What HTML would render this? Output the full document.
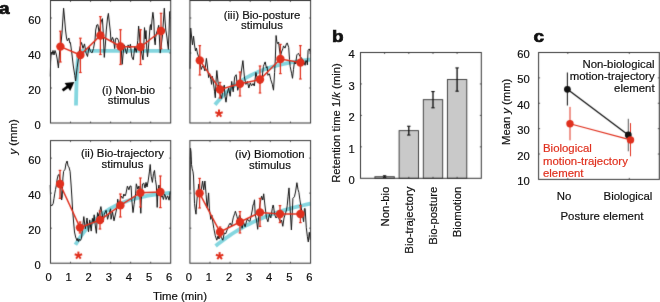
<!DOCTYPE html><html><head><meta charset="utf-8"><style>html,body{margin:0;padding:0;background:#fff;}#w{width:660px;height:302px;overflow:hidden;will-change:transform;}svg{display:block;}text{font-family:"Liberation Sans", sans-serif;}</style></head><body><div id="w"><svg width="660" height="302" viewBox="0 0 660 302" font-family='"Liberation Sans", sans-serif'>
<defs><filter id="bl" x="0" y="0" width="660" height="302" filterUnits="userSpaceOnUse" color-interpolation-filters="sRGB"><feConvolveMatrix order="3" kernelMatrix="0.0113 0.0838 0.0113 0.0838 0.6193 0.0838 0.0113 0.0838 0.0113" divisor="1" edgeMode="duplicate"/></filter></defs>
<g filter="url(#bl)">
<rect width="660" height="302" fill="#fff"/>
<path d="M76.0,105.5 L76.00,105.40 L76.01,104.60 L76.06,102.27 L76.13,98.62 L76.24,93.93 L76.37,88.58 L76.53,82.93 L76.72,77.33 L76.94,72.08 L77.20,67.38 L77.48,63.35 L77.79,60.03 L78.13,57.40 L78.50,55.39 L78.89,53.92 L79.32,52.87 L79.78,52.14 L80.27,51.66 L80.78,51.36 L81.33,51.16 L81.91,51.05 L82.51,50.98 L83.15,50.94 L83.81,50.92 L84.50,50.91 L85.23,50.91 L85.98,50.90 L86.76,50.90 L87.58,50.90 L88.42,50.90 L89.29,50.90 L90.19,50.90 L91.12,50.90 L92.08,50.90 L93.07,50.90 L94.09,50.90 L95.14,50.90 L96.21,50.90 L97.32,50.90 L98.46,50.90 L99.62,50.90 L100.82,50.90 L102.05,50.90 L103.30,50.90 L104.59,50.90 L105.90,50.90 L107.24,50.90 L108.62,50.90 L110.02,50.90 L111.45,50.90 L112.91,50.90 L114.41,50.90 L115.93,50.90 L117.48,50.90 L119.06,50.90 L120.67,50.90 L122.30,50.90 L123.97,50.90 L125.67,50.90 L127.40,50.90 L129.16,50.90 L130.94,50.90 L132.76,50.90 L134.60,50.90 L136.48,50.90 L138.38,50.90 L140.32,50.90 L142.28,50.90 L144.28,50.90 L146.30,50.90 L148.35,50.90 L150.43,50.90 L152.55,50.90 L154.69,50.90 L156.86,50.90 L159.06,50.90 L161.29,50.90 L163.55,50.90 L165.83,50.90 L168.15,50.90 L170.50,50.90" fill="none" stroke="#84d6df" stroke-width="3.8" stroke-linecap="butt" stroke-linejoin="round"/>
<polyline points="50.3,76.5 50.6,62.0 51.2,52.0 52.0,54.5 53.0,50.5 54.0,55.0 55.0,50.5 56.2,54.0 57.2,59.0 58.4,68.0 59.3,56.0 60.0,47.0 61.0,43.0 62.0,33.0 62.8,20.0 63.6,8.2 64.5,18.0 65.5,30.0 66.5,38.0 67.4,41.0 68.9,38.0 69.8,43.0 70.4,42.5 71.8,53.0 73.3,66.0 74.8,75.5 75.6,81.0 76.4,74.0 77.1,67.8 78.6,57.4 80.0,47.0 81.5,42.5 83.0,48.4 84.5,43.9 86.0,52.9 87.5,56.5 89.0,47.0 90.5,51.4 92.0,52.9 93.5,48.4 95.0,40.0 95.7,30.0 96.8,25.0 97.9,24.6 99.0,32.0 100.0,28.0 101.0,22.0 102.4,18.6 103.1,30.0 104.3,57.4 105.4,44.0 106.3,30.0 107.5,18.0 108.4,13.4 109.5,24.0 110.4,32.0 111.0,41.9 112.5,37.3 113.5,40.0 114.7,48.6 115.5,38.7 117.0,38.0 118.4,40.2 119.5,45.0 120.5,42.0 121.3,50.0 122.2,64.3 123.3,52.0 124.4,44.9 125.5,50.0 126.6,53.8 128.1,44.9 129.3,48.0 130.4,44.2 131.8,56.8 133.3,59.8 134.8,46.4 136.3,52.4 137.8,40.4 138.6,26.0 139.3,33.0 140.2,45.0 141.5,52.0 143.0,59.8 143.8,46.0 144.5,27.6 145.3,38.9 146.0,30.5 146.8,49.4 147.5,56.8 148.4,48.0 149.0,40.4 150.0,27.0 150.5,24.6 151.2,30.0 152.0,20.0 152.9,12.3 153.8,20.0 154.5,40.0 155.2,44.9 155.7,37.3 156.5,33.0 157.5,30.0 158.7,25.3 159.5,40.0 160.2,53.1 161.3,45.0 162.4,36.0 163.5,20.0 164.3,8.2 165.0,20.0 165.8,30.0 166.9,37.0 167.8,45.0 168.4,49.4 169.1,30.0 169.6,11.9 170.3,11.0" fill="none" stroke="#111" stroke-width="1.0" stroke-linejoin="round"/>
<line x1="60.40" y1="31.20" x2="60.40" y2="62.00" stroke="#e0301e" stroke-width="1.3" />
<line x1="59.10" y1="31.20" x2="61.70" y2="31.20" stroke="#e0301e" stroke-width="1.2" />
<line x1="59.10" y1="62.00" x2="61.70" y2="62.00" stroke="#e0301e" stroke-width="1.2" />
<line x1="80.40" y1="38.20" x2="80.40" y2="72.50" stroke="#e0301e" stroke-width="1.3" />
<line x1="79.10" y1="38.20" x2="81.70" y2="38.20" stroke="#e0301e" stroke-width="1.2" />
<line x1="79.10" y1="72.50" x2="81.70" y2="72.50" stroke="#e0301e" stroke-width="1.2" />
<line x1="100.40" y1="16.60" x2="100.40" y2="54.50" stroke="#e0301e" stroke-width="1.3" />
<line x1="99.10" y1="16.60" x2="101.70" y2="16.60" stroke="#e0301e" stroke-width="1.2" />
<line x1="99.10" y1="54.50" x2="101.70" y2="54.50" stroke="#e0301e" stroke-width="1.2" />
<line x1="120.50" y1="29.70" x2="120.50" y2="64.50" stroke="#e0301e" stroke-width="1.3" />
<line x1="119.20" y1="29.70" x2="121.80" y2="29.70" stroke="#e0301e" stroke-width="1.2" />
<line x1="119.20" y1="64.50" x2="121.80" y2="64.50" stroke="#e0301e" stroke-width="1.2" />
<line x1="140.50" y1="29.70" x2="140.50" y2="64.50" stroke="#e0301e" stroke-width="1.3" />
<line x1="139.20" y1="29.70" x2="141.80" y2="29.70" stroke="#e0301e" stroke-width="1.2" />
<line x1="139.20" y1="64.50" x2="141.80" y2="64.50" stroke="#e0301e" stroke-width="1.2" />
<line x1="161.00" y1="13.30" x2="161.00" y2="48.70" stroke="#e0301e" stroke-width="1.3" />
<line x1="159.70" y1="13.30" x2="162.30" y2="13.30" stroke="#e0301e" stroke-width="1.2" />
<line x1="159.70" y1="48.70" x2="162.30" y2="48.70" stroke="#e0301e" stroke-width="1.2" />
<polyline points="60.4,46.6 80.4,55.0 100.4,35.5 120.5,46.5 140.5,47.0 161.0,31.0" fill="none" stroke="#e0301e" stroke-width="1.5"/>
<circle cx="60.4" cy="46.6" r="4.2" fill="#e0301e"/>
<circle cx="80.4" cy="55.0" r="4.2" fill="#e0301e"/>
<circle cx="100.4" cy="35.5" r="4.2" fill="#e0301e"/>
<circle cx="120.5" cy="46.5" r="4.2" fill="#e0301e"/>
<circle cx="140.5" cy="47.0" r="4.2" fill="#e0301e"/>
<circle cx="161.0" cy="31.0" r="4.2" fill="#e0301e"/>
<rect x="50.5" y="0.5" width="120.20" height="122.50" fill="none" stroke="#333" stroke-width="1"/>
<line x1="70.53" y1="123.00" x2="70.53" y2="121.50" stroke="#333" stroke-width="0.8" />
<line x1="70.53" y1="0.50" x2="70.53" y2="2.00" stroke="#333" stroke-width="0.8" />
<line x1="90.57" y1="123.00" x2="90.57" y2="121.50" stroke="#333" stroke-width="0.8" />
<line x1="90.57" y1="0.50" x2="90.57" y2="2.00" stroke="#333" stroke-width="0.8" />
<line x1="110.60" y1="123.00" x2="110.60" y2="121.50" stroke="#333" stroke-width="0.8" />
<line x1="110.60" y1="0.50" x2="110.60" y2="2.00" stroke="#333" stroke-width="0.8" />
<line x1="130.63" y1="123.00" x2="130.63" y2="121.50" stroke="#333" stroke-width="0.8" />
<line x1="130.63" y1="0.50" x2="130.63" y2="2.00" stroke="#333" stroke-width="0.8" />
<line x1="150.67" y1="123.00" x2="150.67" y2="121.50" stroke="#333" stroke-width="0.8" />
<line x1="150.67" y1="0.50" x2="150.67" y2="2.00" stroke="#333" stroke-width="0.8" />
<line x1="50.50" y1="88.00" x2="52.00" y2="88.00" stroke="#333" stroke-width="0.8" />
<line x1="170.70" y1="88.00" x2="169.20" y2="88.00" stroke="#333" stroke-width="0.8" />
<line x1="50.50" y1="53.00" x2="52.00" y2="53.00" stroke="#333" stroke-width="0.8" />
<line x1="170.70" y1="53.00" x2="169.20" y2="53.00" stroke="#333" stroke-width="0.8" />
<line x1="50.50" y1="18.00" x2="52.00" y2="18.00" stroke="#333" stroke-width="0.8" />
<line x1="170.70" y1="18.00" x2="169.20" y2="18.00" stroke="#333" stroke-width="0.8" />
<path d="M215.00,104.70 L216.59,102.76 L218.18,100.90 L219.78,99.11 L221.37,97.39 L222.96,95.73 L224.55,94.14 L226.14,92.62 L227.73,91.15 L229.32,89.74 L230.92,88.38 L232.51,87.08 L234.10,85.83 L235.69,84.63 L237.28,83.47 L238.88,82.36 L240.47,81.29 L242.06,80.27 L243.65,79.28 L245.24,78.34 L246.83,77.42 L248.43,76.55 L250.02,75.71 L251.61,74.90 L253.20,74.13 L254.79,73.38 L256.38,72.66 L257.98,71.97 L259.57,71.31 L261.16,70.67 L262.75,70.06 L264.34,69.48 L265.93,68.91 L267.52,68.37 L269.12,67.85 L270.71,67.35 L272.30,66.86 L273.89,66.40 L275.48,65.96 L277.07,65.53 L278.67,65.12 L280.26,64.72 L281.85,64.34 L283.44,63.98 L285.03,63.63 L286.62,63.29 L288.22,62.97 L289.81,62.66 L291.40,62.36 L292.99,62.07 L294.58,61.80 L296.18,61.53 L297.77,61.28 L299.36,61.03 L300.95,60.80 L302.54,60.57 L304.13,60.35 L305.73,60.14 L307.32,59.94 L308.91,59.75 L310.50,59.57" fill="none" stroke="#84d6df" stroke-width="3.8" stroke-linecap="butt" stroke-linejoin="round"/>
<polyline points="190.0,68.8 190.3,45.0 190.7,28.0 191.5,36.0 192.5,45.0 193.5,36.0 194.5,45.0 195.5,51.0 196.4,48.0 197.4,53.0 198.9,57.8 200.4,65.0 201.2,69.5 202.6,65.9 203.6,67.0 204.9,71.0 206.4,58.4 207.4,66.0 208.6,77.6 209.6,73.5 210.8,79.3 211.6,84.4 212.3,76.3 213.1,79.9 213.8,86.0 214.6,91.8 215.3,97.8 216.1,80.0 216.8,70.5 218.3,84.4 219.8,93.3 221.6,98.5 222.8,90.0 224.3,85.1 225.0,96.3 226.0,102.2 227.2,93.3 228.7,88.1 230.2,96.3 231.7,81.4 233.2,91.8 234.7,76.9 236.2,74.7 237.7,90.3 239.0,85.0 240.5,78.0 241.5,70.0 242.9,60.6 244.4,76.9 245.9,84.4 247.4,81.4 248.8,88.0 250.3,82.9 251.5,85.8 253.0,83.5 254.3,86.0 255.9,72.4 256.7,76.0 258.2,79.8 259.8,84.0 261.9,79.8 263.4,66.4 264.1,64.5 265.2,61.9 266.4,67.9 267.1,66.7 267.9,75.3 269.4,73.8 270.8,79.8 272.3,84.3 273.5,90.2 274.6,72.4 275.3,58.9 276.1,35.5 276.8,41.4 277.6,43.6 278.6,42.0 279.5,50.0 280.5,56.3 281.5,52.0 282.8,48.9 283.5,45.9 285.0,48.1 286.5,43.6 287.2,42.9 288.7,47.4 289.5,59.3 290.2,66.7 291.7,73.8 292.5,78.3 293.5,69.4 294.4,62.3 295.5,64.0 296.9,54.8 298.4,53.3 299.8,56.0 301.5,58.0 303.5,61.0 305.1,65.3 305.9,60.4 306.6,61.0 307.4,64.9 308.1,50.4 309.3,48.9 310.3,52.0" fill="none" stroke="#111" stroke-width="1.0" stroke-linejoin="round"/>
<line x1="199.80" y1="45.60" x2="199.80" y2="75.00" stroke="#e0301e" stroke-width="1.3" />
<line x1="198.50" y1="45.60" x2="201.10" y2="45.60" stroke="#e0301e" stroke-width="1.2" />
<line x1="198.50" y1="75.00" x2="201.10" y2="75.00" stroke="#e0301e" stroke-width="1.2" />
<line x1="220.00" y1="82.40" x2="220.00" y2="98.00" stroke="#e0301e" stroke-width="1.3" />
<line x1="218.70" y1="82.40" x2="221.30" y2="82.40" stroke="#e0301e" stroke-width="1.2" />
<line x1="218.70" y1="98.00" x2="221.30" y2="98.00" stroke="#e0301e" stroke-width="1.2" />
<line x1="240.00" y1="72.00" x2="240.00" y2="96.00" stroke="#e0301e" stroke-width="1.3" />
<line x1="238.70" y1="72.00" x2="241.30" y2="72.00" stroke="#e0301e" stroke-width="1.2" />
<line x1="238.70" y1="96.00" x2="241.30" y2="96.00" stroke="#e0301e" stroke-width="1.2" />
<line x1="260.00" y1="66.00" x2="260.00" y2="93.00" stroke="#e0301e" stroke-width="1.3" />
<line x1="258.70" y1="66.00" x2="261.30" y2="66.00" stroke="#e0301e" stroke-width="1.2" />
<line x1="258.70" y1="93.00" x2="261.30" y2="93.00" stroke="#e0301e" stroke-width="1.2" />
<line x1="280.40" y1="44.40" x2="280.40" y2="73.60" stroke="#e0301e" stroke-width="1.3" />
<line x1="279.10" y1="44.40" x2="281.70" y2="44.40" stroke="#e0301e" stroke-width="1.2" />
<line x1="279.10" y1="73.60" x2="281.70" y2="73.60" stroke="#e0301e" stroke-width="1.2" />
<line x1="300.40" y1="45.60" x2="300.40" y2="79.00" stroke="#e0301e" stroke-width="1.3" />
<line x1="299.10" y1="45.60" x2="301.70" y2="45.60" stroke="#e0301e" stroke-width="1.2" />
<line x1="299.10" y1="79.00" x2="301.70" y2="79.00" stroke="#e0301e" stroke-width="1.2" />
<polyline points="199.8,60.4 220.0,89.5 240.0,83.8 260.0,79.5 280.4,59.0 300.4,62.6" fill="none" stroke="#e0301e" stroke-width="1.5"/>
<circle cx="199.8" cy="60.4" r="4.2" fill="#e0301e"/>
<circle cx="220.0" cy="89.5" r="4.2" fill="#e0301e"/>
<circle cx="240.0" cy="83.8" r="4.2" fill="#e0301e"/>
<circle cx="260.0" cy="79.5" r="4.2" fill="#e0301e"/>
<circle cx="280.4" cy="59.0" r="4.2" fill="#e0301e"/>
<circle cx="300.4" cy="62.6" r="4.2" fill="#e0301e"/>
<rect x="189.9" y="0.5" width="120.70" height="122.50" fill="none" stroke="#333" stroke-width="1"/>
<line x1="210.02" y1="123.00" x2="210.02" y2="121.50" stroke="#333" stroke-width="0.8" />
<line x1="210.02" y1="0.50" x2="210.02" y2="2.00" stroke="#333" stroke-width="0.8" />
<line x1="230.13" y1="123.00" x2="230.13" y2="121.50" stroke="#333" stroke-width="0.8" />
<line x1="230.13" y1="0.50" x2="230.13" y2="2.00" stroke="#333" stroke-width="0.8" />
<line x1="250.25" y1="123.00" x2="250.25" y2="121.50" stroke="#333" stroke-width="0.8" />
<line x1="250.25" y1="0.50" x2="250.25" y2="2.00" stroke="#333" stroke-width="0.8" />
<line x1="270.37" y1="123.00" x2="270.37" y2="121.50" stroke="#333" stroke-width="0.8" />
<line x1="270.37" y1="0.50" x2="270.37" y2="2.00" stroke="#333" stroke-width="0.8" />
<line x1="290.48" y1="123.00" x2="290.48" y2="121.50" stroke="#333" stroke-width="0.8" />
<line x1="290.48" y1="0.50" x2="290.48" y2="2.00" stroke="#333" stroke-width="0.8" />
<line x1="189.90" y1="88.00" x2="191.40" y2="88.00" stroke="#333" stroke-width="0.8" />
<line x1="310.60" y1="88.00" x2="309.10" y2="88.00" stroke="#333" stroke-width="0.8" />
<line x1="189.90" y1="53.00" x2="191.40" y2="53.00" stroke="#333" stroke-width="0.8" />
<line x1="310.60" y1="53.00" x2="309.10" y2="53.00" stroke="#333" stroke-width="0.8" />
<line x1="189.90" y1="18.00" x2="191.40" y2="18.00" stroke="#333" stroke-width="0.8" />
<line x1="310.60" y1="18.00" x2="309.10" y2="18.00" stroke="#333" stroke-width="0.8" />
<line x1="219.00" y1="113.50" x2="219.00" y2="109.60" stroke="#e0301e" stroke-width="2.0" stroke-linecap="butt"/>
<line x1="219.00" y1="113.50" x2="222.71" y2="112.29" stroke="#e0301e" stroke-width="2.0" stroke-linecap="butt"/>
<line x1="219.00" y1="113.50" x2="221.29" y2="116.66" stroke="#e0301e" stroke-width="2.0" stroke-linecap="butt"/>
<line x1="219.00" y1="113.50" x2="216.71" y2="116.66" stroke="#e0301e" stroke-width="2.0" stroke-linecap="butt"/>
<line x1="219.00" y1="113.50" x2="215.29" y2="112.29" stroke="#e0301e" stroke-width="2.0" stroke-linecap="butt"/>
<path d="M75.40,244.80 L76.98,242.17 L78.57,239.66 L80.16,237.28 L81.74,235.01 L83.33,232.84 L84.91,230.79 L86.50,228.83 L88.08,226.96 L89.67,225.19 L91.25,223.50 L92.84,221.89 L94.42,220.36 L96.01,218.90 L97.59,217.51 L99.18,216.19 L100.76,214.93 L102.34,213.73 L103.93,212.59 L105.52,211.51 L107.10,210.48 L108.69,209.49 L110.27,208.56 L111.86,207.66 L113.44,206.82 L115.03,206.01 L116.61,205.24 L118.20,204.51 L119.78,203.81 L121.37,203.15 L122.95,202.52 L124.54,201.91 L126.12,201.34 L127.71,200.80 L129.29,200.28 L130.88,199.79 L132.46,199.32 L134.05,198.87 L135.63,198.44 L137.22,198.04 L138.80,197.65 L140.38,197.28 L141.97,196.93 L143.56,196.60 L145.14,196.28 L146.72,195.98 L148.31,195.69 L149.89,195.42 L151.48,195.16 L153.06,194.91 L154.65,194.68 L156.24,194.45 L157.82,194.24 L159.41,194.03 L160.99,193.84 L162.57,193.66 L164.16,193.48 L165.75,193.31 L167.33,193.15 L168.91,193.00 L170.50,192.86" fill="none" stroke="#84d6df" stroke-width="3.8" stroke-linecap="butt" stroke-linejoin="round"/>
<polyline points="50.2,185.0 50.5,196.0 50.7,204.4 51.7,205.9 53.2,203.6 54.0,198.4 54.7,193.9 55.5,189.5 56.2,186.0 57.2,179.0 58.2,175.0 59.2,174.4 60.0,180.0 61.0,190.0 61.6,200.0 62.2,197.0 62.9,178.0 63.6,171.4 65.1,169.2 65.9,163.9 67.1,161.0 68.1,166.2 68.9,166.9 70.1,171.4 71.1,185.0 71.8,196.0 72.6,210.0 73.6,222.0 74.5,232.0 75.6,237.0 77.1,240.8 77.8,238.5 78.6,241.5 79.3,239.3 80.3,240.5 81.5,238.5 82.5,228.0 83.8,216.6 85.3,228.8 86.2,224.0 87.0,218.0 88.5,231.8 89.7,219.9 91.2,231.1 92.4,218.4 93.3,222.0 94.2,214.8 95.2,225.0 96.4,233.3 97.5,212.6 98.3,216.0 99.3,213.0 100.9,206.6 102.3,215.0 103.3,222.0 104.3,214.1 106.1,210.3 107.6,219.3 109.1,213.3 110.6,208.8 111.0,219.3 112.5,211.8 114.0,220.8 115.5,214.0 117.0,207.4 117.7,199.2 118.8,205.0 120.0,201.0 121.3,196.0 122.9,198.4 123.8,194.0 125.0,196.0 125.9,193.9 127.4,186.1 128.9,189.8 130.0,186.0 131.1,186.1 131.8,199.9 133.0,212.6 134.1,204.4 135.6,193.9 136.3,183.8 137.8,189.1 139.0,186.0 140.0,196.0 140.8,213.3 141.5,195.0 142.5,184.0 143.8,183.1 145.0,188.0 146.0,182.4 147.0,187.0 148.2,180.9 149.4,171.9 150.2,164.5 151.2,176.4 152.4,182.4 153.5,173.4 154.5,170.4 155.4,179.4 156.4,186.0 157.2,207.4 158.0,190.0 159.0,185.0 159.9,194.3 160.9,197.3 162.4,195.8 163.4,199.5 164.6,194.3 165.4,195.4 166.1,199.5 167.6,195.8 169.1,200.2 170.3,191.3" fill="none" stroke="#111" stroke-width="1.0" stroke-linejoin="round"/>
<line x1="60.00" y1="170.40" x2="60.00" y2="198.40" stroke="#e0301e" stroke-width="1.3" />
<line x1="58.70" y1="170.40" x2="61.30" y2="170.40" stroke="#e0301e" stroke-width="1.2" />
<line x1="58.70" y1="198.40" x2="61.30" y2="198.40" stroke="#e0301e" stroke-width="1.2" />
<line x1="80.00" y1="222.00" x2="80.00" y2="233.00" stroke="#e0301e" stroke-width="1.3" />
<line x1="78.70" y1="222.00" x2="81.30" y2="222.00" stroke="#e0301e" stroke-width="1.2" />
<line x1="78.70" y1="233.00" x2="81.30" y2="233.00" stroke="#e0301e" stroke-width="1.2" />
<line x1="100.00" y1="211.00" x2="100.00" y2="229.00" stroke="#e0301e" stroke-width="1.3" />
<line x1="98.70" y1="211.00" x2="101.30" y2="211.00" stroke="#e0301e" stroke-width="1.2" />
<line x1="98.70" y1="229.00" x2="101.30" y2="229.00" stroke="#e0301e" stroke-width="1.2" />
<line x1="120.40" y1="194.00" x2="120.40" y2="217.00" stroke="#e0301e" stroke-width="1.3" />
<line x1="119.10" y1="194.00" x2="121.70" y2="194.00" stroke="#e0301e" stroke-width="1.2" />
<line x1="119.10" y1="217.00" x2="121.70" y2="217.00" stroke="#e0301e" stroke-width="1.2" />
<line x1="140.40" y1="178.00" x2="140.40" y2="207.00" stroke="#e0301e" stroke-width="1.3" />
<line x1="139.10" y1="178.00" x2="141.70" y2="178.00" stroke="#e0301e" stroke-width="1.2" />
<line x1="139.10" y1="207.00" x2="141.70" y2="207.00" stroke="#e0301e" stroke-width="1.2" />
<line x1="160.40" y1="176.00" x2="160.40" y2="207.60" stroke="#e0301e" stroke-width="1.3" />
<line x1="159.10" y1="176.00" x2="161.70" y2="176.00" stroke="#e0301e" stroke-width="1.2" />
<line x1="159.10" y1="207.60" x2="161.70" y2="207.60" stroke="#e0301e" stroke-width="1.2" />
<polyline points="60.0,184.0 80.0,227.6 100.0,220.0 120.4,205.4 140.4,192.7 160.4,192.0" fill="none" stroke="#e0301e" stroke-width="1.5"/>
<circle cx="60.0" cy="184.0" r="4.2" fill="#e0301e"/>
<circle cx="80.0" cy="227.6" r="4.2" fill="#e0301e"/>
<circle cx="100.0" cy="220.0" r="4.2" fill="#e0301e"/>
<circle cx="120.4" cy="205.4" r="4.2" fill="#e0301e"/>
<circle cx="140.4" cy="192.7" r="4.2" fill="#e0301e"/>
<circle cx="160.4" cy="192.0" r="4.2" fill="#e0301e"/>
<rect x="50.5" y="140.6" width="120.20" height="122.60" fill="none" stroke="#333" stroke-width="1"/>
<line x1="70.53" y1="263.20" x2="70.53" y2="261.70" stroke="#333" stroke-width="0.8" />
<line x1="70.53" y1="140.60" x2="70.53" y2="142.10" stroke="#333" stroke-width="0.8" />
<line x1="90.57" y1="263.20" x2="90.57" y2="261.70" stroke="#333" stroke-width="0.8" />
<line x1="90.57" y1="140.60" x2="90.57" y2="142.10" stroke="#333" stroke-width="0.8" />
<line x1="110.60" y1="263.20" x2="110.60" y2="261.70" stroke="#333" stroke-width="0.8" />
<line x1="110.60" y1="140.60" x2="110.60" y2="142.10" stroke="#333" stroke-width="0.8" />
<line x1="130.63" y1="263.20" x2="130.63" y2="261.70" stroke="#333" stroke-width="0.8" />
<line x1="130.63" y1="140.60" x2="130.63" y2="142.10" stroke="#333" stroke-width="0.8" />
<line x1="150.67" y1="263.20" x2="150.67" y2="261.70" stroke="#333" stroke-width="0.8" />
<line x1="150.67" y1="140.60" x2="150.67" y2="142.10" stroke="#333" stroke-width="0.8" />
<line x1="50.50" y1="228.17" x2="52.00" y2="228.17" stroke="#333" stroke-width="0.8" />
<line x1="170.70" y1="228.17" x2="169.20" y2="228.17" stroke="#333" stroke-width="0.8" />
<line x1="50.50" y1="193.14" x2="52.00" y2="193.14" stroke="#333" stroke-width="0.8" />
<line x1="170.70" y1="193.14" x2="169.20" y2="193.14" stroke="#333" stroke-width="0.8" />
<line x1="50.50" y1="158.11" x2="52.00" y2="158.11" stroke="#333" stroke-width="0.8" />
<line x1="170.70" y1="158.11" x2="169.20" y2="158.11" stroke="#333" stroke-width="0.8" />
<line x1="78.40" y1="255.50" x2="78.40" y2="251.60" stroke="#e0301e" stroke-width="2.0" stroke-linecap="butt"/>
<line x1="78.40" y1="255.50" x2="82.11" y2="254.29" stroke="#e0301e" stroke-width="2.0" stroke-linecap="butt"/>
<line x1="78.40" y1="255.50" x2="80.69" y2="258.66" stroke="#e0301e" stroke-width="2.0" stroke-linecap="butt"/>
<line x1="78.40" y1="255.50" x2="76.11" y2="258.66" stroke="#e0301e" stroke-width="2.0" stroke-linecap="butt"/>
<line x1="78.40" y1="255.50" x2="74.69" y2="254.29" stroke="#e0301e" stroke-width="2.0" stroke-linecap="butt"/>
<path d="M215.60,246.00 L217.97,244.06 L220.34,242.19 L222.72,240.39 L225.09,238.65 L227.46,236.96 L229.84,235.34 L232.21,233.77 L234.58,232.26 L236.95,230.79 L239.32,229.38 L241.70,228.02 L244.07,226.71 L246.44,225.44 L248.81,224.21 L251.19,223.03 L253.56,221.89 L255.93,220.78 L258.31,219.72 L260.68,218.69 L263.05,217.70 L265.42,216.74 L267.80,215.81 L270.17,214.92 L272.54,214.06 L274.91,213.23 L277.28,212.42 L279.66,211.65 L282.03,210.90 L284.40,210.18 L286.77,209.48 L289.15,208.81 L291.52,208.15 L293.89,207.53 L296.26,206.92 L298.64,206.34 L301.01,205.77 L303.38,205.23 L305.75,204.70 L308.13,204.19 L310.50,203.70" fill="none" stroke="#84d6df" stroke-width="3.8" stroke-linecap="butt" stroke-linejoin="round"/>
<polyline points="190.0,190.0 190.2,160.0 190.5,148.0 191.0,152.0 191.5,164.4 192.2,168.8 193.0,171.8 193.5,176.0 194.0,190.0 194.5,203.3 195.2,209.3 196.0,214.2 196.6,204.0 197.4,195.0 198.9,184.0 200.2,195.0 201.5,188.0 202.6,181.0 203.7,189.9 204.9,181.0 206.1,194.4 207.1,208.0 208.0,200.0 208.6,192.9 209.4,208.9 210.8,219.4 211.8,215.0 212.8,222.0 213.8,228.3 215.3,235.8 216.8,240.2 218.0,236.0 219.0,239.0 220.0,233.0 221.3,237.3 222.8,240.2 224.3,232.8 225.5,234.0 227.2,229.8 228.7,225.3 230.2,223.1 231.6,226.0 233.2,217.9 234.7,213.4 235.4,211.2 236.9,216.4 238.0,221.0 239.5,215.0 241.0,219.0 242.1,228.3 243.5,222.0 245.1,226.8 246.6,220.9 247.5,219.0 248.5,221.0 250.0,221.1 251.5,214.0 252.3,210.0 253.0,205.0 253.7,203.9 254.5,199.8 255.2,214.4 256.5,220.0 257.7,229.3 258.8,215.0 259.8,205.0 260.8,200.0 261.6,196.1 262.8,200.0 263.7,193.8 264.9,205.0 266.4,217.4 267.9,221.8 269.4,214.4 270.8,218.0 272.3,208.4 273.1,205.0 273.5,206.0 274.6,214.4 276.0,218.0 277.5,216.0 279.0,218.8 280.5,222.0 281.5,220.0 282.8,226.3 284.0,218.0 285.3,214.0 286.5,209.9 287.2,205.8 288.0,196.8 289.0,187.9 290.2,210.0 291.4,230.0 292.2,215.0 292.9,198.3 294.4,196.8 295.5,192.0 296.9,182.7 298.0,189.4 298.9,192.4 299.9,199.8 300.9,206.0 302.1,212.9 303.6,221.8 304.4,208.7 305.1,208.4 306.3,227.8 307.4,236.7 308.3,242.0 309.3,232.3 310.3,240.0" fill="none" stroke="#111" stroke-width="1.0" stroke-linejoin="round"/>
<line x1="199.60" y1="178.40" x2="199.60" y2="208.00" stroke="#e0301e" stroke-width="1.3" />
<line x1="198.30" y1="178.40" x2="200.90" y2="178.40" stroke="#e0301e" stroke-width="1.2" />
<line x1="198.30" y1="208.00" x2="200.90" y2="208.00" stroke="#e0301e" stroke-width="1.2" />
<line x1="220.00" y1="227.00" x2="220.00" y2="237.00" stroke="#e0301e" stroke-width="1.3" />
<line x1="218.70" y1="227.00" x2="221.30" y2="227.00" stroke="#e0301e" stroke-width="1.2" />
<line x1="218.70" y1="237.00" x2="221.30" y2="237.00" stroke="#e0301e" stroke-width="1.2" />
<line x1="240.00" y1="211.60" x2="240.00" y2="233.00" stroke="#e0301e" stroke-width="1.3" />
<line x1="238.70" y1="211.60" x2="241.30" y2="211.60" stroke="#e0301e" stroke-width="1.2" />
<line x1="238.70" y1="233.00" x2="241.30" y2="233.00" stroke="#e0301e" stroke-width="1.2" />
<line x1="260.00" y1="198.40" x2="260.00" y2="226.40" stroke="#e0301e" stroke-width="1.3" />
<line x1="258.70" y1="198.40" x2="261.30" y2="198.40" stroke="#e0301e" stroke-width="1.2" />
<line x1="258.70" y1="226.40" x2="261.30" y2="226.40" stroke="#e0301e" stroke-width="1.2" />
<line x1="280.00" y1="205.60" x2="280.00" y2="222.60" stroke="#e0301e" stroke-width="1.3" />
<line x1="278.70" y1="205.60" x2="281.30" y2="205.60" stroke="#e0301e" stroke-width="1.2" />
<line x1="278.70" y1="222.60" x2="281.30" y2="222.60" stroke="#e0301e" stroke-width="1.2" />
<line x1="300.40" y1="205.60" x2="300.40" y2="222.60" stroke="#e0301e" stroke-width="1.3" />
<line x1="299.10" y1="205.60" x2="301.70" y2="205.60" stroke="#e0301e" stroke-width="1.2" />
<line x1="299.10" y1="222.60" x2="301.70" y2="222.60" stroke="#e0301e" stroke-width="1.2" />
<polyline points="199.6,193.3 220.0,232.0 240.0,222.0 260.0,212.4 280.0,214.0 300.4,214.0" fill="none" stroke="#e0301e" stroke-width="1.5"/>
<circle cx="199.6" cy="193.3" r="4.2" fill="#e0301e"/>
<circle cx="220.0" cy="232.0" r="4.2" fill="#e0301e"/>
<circle cx="240.0" cy="222.0" r="4.2" fill="#e0301e"/>
<circle cx="260.0" cy="212.4" r="4.2" fill="#e0301e"/>
<circle cx="280.0" cy="214.0" r="4.2" fill="#e0301e"/>
<circle cx="300.4" cy="214.0" r="4.2" fill="#e0301e"/>
<rect x="189.9" y="140.6" width="120.70" height="122.60" fill="none" stroke="#333" stroke-width="1"/>
<line x1="210.02" y1="263.20" x2="210.02" y2="261.70" stroke="#333" stroke-width="0.8" />
<line x1="210.02" y1="140.60" x2="210.02" y2="142.10" stroke="#333" stroke-width="0.8" />
<line x1="230.13" y1="263.20" x2="230.13" y2="261.70" stroke="#333" stroke-width="0.8" />
<line x1="230.13" y1="140.60" x2="230.13" y2="142.10" stroke="#333" stroke-width="0.8" />
<line x1="250.25" y1="263.20" x2="250.25" y2="261.70" stroke="#333" stroke-width="0.8" />
<line x1="250.25" y1="140.60" x2="250.25" y2="142.10" stroke="#333" stroke-width="0.8" />
<line x1="270.37" y1="263.20" x2="270.37" y2="261.70" stroke="#333" stroke-width="0.8" />
<line x1="270.37" y1="140.60" x2="270.37" y2="142.10" stroke="#333" stroke-width="0.8" />
<line x1="290.48" y1="263.20" x2="290.48" y2="261.70" stroke="#333" stroke-width="0.8" />
<line x1="290.48" y1="140.60" x2="290.48" y2="142.10" stroke="#333" stroke-width="0.8" />
<line x1="189.90" y1="228.17" x2="191.40" y2="228.17" stroke="#333" stroke-width="0.8" />
<line x1="310.60" y1="228.17" x2="309.10" y2="228.17" stroke="#333" stroke-width="0.8" />
<line x1="189.90" y1="193.14" x2="191.40" y2="193.14" stroke="#333" stroke-width="0.8" />
<line x1="310.60" y1="193.14" x2="309.10" y2="193.14" stroke="#333" stroke-width="0.8" />
<line x1="189.90" y1="158.11" x2="191.40" y2="158.11" stroke="#333" stroke-width="0.8" />
<line x1="310.60" y1="158.11" x2="309.10" y2="158.11" stroke="#333" stroke-width="0.8" />
<line x1="219.60" y1="256.00" x2="219.60" y2="252.10" stroke="#e0301e" stroke-width="2.0" stroke-linecap="butt"/>
<line x1="219.60" y1="256.00" x2="223.31" y2="254.79" stroke="#e0301e" stroke-width="2.0" stroke-linecap="butt"/>
<line x1="219.60" y1="256.00" x2="221.89" y2="259.16" stroke="#e0301e" stroke-width="2.0" stroke-linecap="butt"/>
<line x1="219.60" y1="256.00" x2="217.31" y2="259.16" stroke="#e0301e" stroke-width="2.0" stroke-linecap="butt"/>
<line x1="219.60" y1="256.00" x2="215.89" y2="254.79" stroke="#e0301e" stroke-width="2.0" stroke-linecap="butt"/>
<path d="M62.6,90.4 L68.5,86.2" stroke="#000" stroke-width="2.7" fill="none"/>
<path d="M74.3,82.0 L64.6,83.1 L70.2,91.0 Z" fill="#000"/>
<rect x="374.90" y="176.73" width="19.4" height="1.57" fill="#c9c9c9" stroke="#333" stroke-width="0.9"/>
<line x1="384.60" y1="175.78" x2="384.60" y2="177.67" stroke="#111" stroke-width="1.35" />
<line x1="382.90" y1="175.78" x2="386.30" y2="175.78" stroke="#111" stroke-width="1.1" />
<line x1="382.90" y1="177.67" x2="386.30" y2="177.67" stroke="#111" stroke-width="1.1" />
<rect x="399.10" y="130.65" width="19.4" height="47.65" fill="#c9c9c9" stroke="#333" stroke-width="0.9"/>
<line x1="408.80" y1="126.25" x2="408.80" y2="135.06" stroke="#111" stroke-width="1.35" />
<line x1="407.10" y1="126.25" x2="410.50" y2="126.25" stroke="#111" stroke-width="1.1" />
<line x1="407.10" y1="135.06" x2="410.50" y2="135.06" stroke="#111" stroke-width="1.1" />
<rect x="423.30" y="99.68" width="19.4" height="78.62" fill="#c9c9c9" stroke="#333" stroke-width="0.9"/>
<line x1="433.00" y1="91.56" x2="433.00" y2="107.79" stroke="#111" stroke-width="1.35" />
<line x1="431.30" y1="91.56" x2="434.70" y2="91.56" stroke="#111" stroke-width="1.1" />
<line x1="431.30" y1="107.79" x2="434.70" y2="107.79" stroke="#111" stroke-width="1.1" />
<rect x="447.40" y="79.55" width="19.4" height="98.75" fill="#c9c9c9" stroke="#333" stroke-width="0.9"/>
<line x1="457.10" y1="67.91" x2="457.10" y2="91.18" stroke="#111" stroke-width="1.35" />
<line x1="455.40" y1="67.91" x2="458.80" y2="67.91" stroke="#111" stroke-width="1.1" />
<line x1="455.40" y1="91.18" x2="458.80" y2="91.18" stroke="#111" stroke-width="1.1" />
<rect x="360.5" y="52.5" width="120.80" height="125.80" fill="none" stroke="#333" stroke-width="1"/>
<line x1="360.50" y1="146.85" x2="362.00" y2="146.85" stroke="#333" stroke-width="0.8" />
<line x1="481.30" y1="146.85" x2="479.80" y2="146.85" stroke="#333" stroke-width="0.8" />
<line x1="360.50" y1="115.40" x2="362.00" y2="115.40" stroke="#333" stroke-width="0.8" />
<line x1="481.30" y1="115.40" x2="479.80" y2="115.40" stroke="#333" stroke-width="0.8" />
<line x1="360.50" y1="83.95" x2="362.00" y2="83.95" stroke="#333" stroke-width="0.8" />
<line x1="481.30" y1="83.95" x2="479.80" y2="83.95" stroke="#333" stroke-width="0.8" />
<line x1="384.60" y1="52.50" x2="384.60" y2="54.00" stroke="#333" stroke-width="0.8" />
<line x1="384.60" y1="178.30" x2="384.60" y2="176.80" stroke="#333" stroke-width="0.8" />
<line x1="408.80" y1="52.50" x2="408.80" y2="54.00" stroke="#333" stroke-width="0.8" />
<line x1="408.80" y1="178.30" x2="408.80" y2="176.80" stroke="#333" stroke-width="0.8" />
<line x1="433.00" y1="52.50" x2="433.00" y2="54.00" stroke="#333" stroke-width="0.8" />
<line x1="433.00" y1="178.30" x2="433.00" y2="176.80" stroke="#333" stroke-width="0.8" />
<line x1="457.10" y1="52.50" x2="457.10" y2="54.00" stroke="#333" stroke-width="0.8" />
<line x1="457.10" y1="178.30" x2="457.10" y2="176.80" stroke="#333" stroke-width="0.8" />
<line x1="567.40" y1="72.60" x2="567.40" y2="105.40" stroke="#222" stroke-width="1.1" />
<line x1="628.30" y1="118.80" x2="628.30" y2="151.30" stroke="#555" stroke-width="1.0" />
<line x1="567.40" y1="89.30" x2="628.30" y2="134.90" stroke="#111" stroke-width="1.25" />
<line x1="570.00" y1="106.90" x2="570.00" y2="140.30" stroke="#e0301e" stroke-width="1.0" />
<line x1="630.50" y1="123.10" x2="630.50" y2="156.30" stroke="#e0301e" stroke-width="1.0" />
<line x1="570.00" y1="123.70" x2="630.50" y2="139.90" stroke="#e0301e" stroke-width="1.15" />
<circle cx="567.4" cy="89.3" r="3.4" fill="#111"/>
<circle cx="628.3" cy="134.9" r="3.4" fill="#111"/>
<circle cx="570.0" cy="123.7" r="3.7" fill="#e0301e"/>
<circle cx="630.5" cy="139.9" r="3.7" fill="#e0301e"/>
<rect x="538.6" y="52.5" width="120.70" height="126.90" fill="none" stroke="#333" stroke-width="1"/>
<line x1="538.60" y1="154.02" x2="540.10" y2="154.02" stroke="#333" stroke-width="0.8" />
<line x1="659.30" y1="154.02" x2="657.80" y2="154.02" stroke="#333" stroke-width="0.8" />
<line x1="538.60" y1="128.64" x2="540.10" y2="128.64" stroke="#333" stroke-width="0.8" />
<line x1="659.30" y1="128.64" x2="657.80" y2="128.64" stroke="#333" stroke-width="0.8" />
<line x1="538.60" y1="103.26" x2="540.10" y2="103.26" stroke="#333" stroke-width="0.8" />
<line x1="659.30" y1="103.26" x2="657.80" y2="103.26" stroke="#333" stroke-width="0.8" />
<line x1="538.60" y1="77.88" x2="540.10" y2="77.88" stroke="#333" stroke-width="0.8" />
<line x1="659.30" y1="77.88" x2="657.80" y2="77.88" stroke="#333" stroke-width="0.8" />
<line x1="567.80" y1="52.50" x2="567.80" y2="54.00" stroke="#333" stroke-width="0.8" />
<line x1="567.80" y1="179.40" x2="567.80" y2="177.90" stroke="#333" stroke-width="0.8" />
<line x1="629.30" y1="52.50" x2="629.30" y2="54.00" stroke="#333" stroke-width="0.8" />
<line x1="629.30" y1="179.40" x2="629.30" y2="177.90" stroke="#333" stroke-width="0.8" />
</g>
<text x="128.50" y="93.50" font-size="11.4" text-anchor="middle" fill="#111" stroke="#111" stroke-width="0.2" font-weight="normal" >(i) Non-bio</text>
<text x="128.70" y="103.80" font-size="11.4" text-anchor="middle" fill="#111" stroke="#111" stroke-width="0.2" font-weight="normal" >stimulus</text>
<text x="262.10" y="18.60" font-size="11.4" text-anchor="middle" fill="#111" stroke="#111" stroke-width="0.2" font-weight="normal" >(iii) Bio-posture</text>
<text x="262.00" y="29.20" font-size="11.4" text-anchor="middle" fill="#111" stroke="#111" stroke-width="0.2" font-weight="normal" >stimulus</text>
<text x="122.50" y="156.90" font-size="11.4" text-anchor="middle" fill="#111" stroke="#111" stroke-width="0.2" font-weight="normal" >(ii) Bio-trajectory</text>
<text x="122.50" y="167.70" font-size="11.4" text-anchor="middle" fill="#111" stroke="#111" stroke-width="0.2" font-weight="normal" >stimulus</text>
<text x="269.90" y="158.00" font-size="11.4" text-anchor="middle" fill="#111" stroke="#111" stroke-width="0.2" font-weight="normal" >(iv) Biomotion</text>
<text x="270.00" y="168.70" font-size="11.4" text-anchor="middle" fill="#111" stroke="#111" stroke-width="0.2" font-weight="normal" >stimulus</text>
<text x="40.80" y="128.90" font-size="11.2" text-anchor="end" fill="#111" stroke="#111" stroke-width="0.2" font-weight="normal" >0</text>
<text x="40.80" y="93.90" font-size="11.2" text-anchor="end" fill="#111" stroke="#111" stroke-width="0.2" font-weight="normal" >20</text>
<text x="40.80" y="58.90" font-size="11.2" text-anchor="end" fill="#111" stroke="#111" stroke-width="0.2" font-weight="normal" >40</text>
<text x="40.80" y="23.90" font-size="11.2" text-anchor="end" fill="#111" stroke="#111" stroke-width="0.2" font-weight="normal" >60</text>
<text x="40.80" y="269.10" font-size="11.2" text-anchor="end" fill="#111" stroke="#111" stroke-width="0.2" font-weight="normal" >0</text>
<text x="40.80" y="234.07" font-size="11.2" text-anchor="end" fill="#111" stroke="#111" stroke-width="0.2" font-weight="normal" >20</text>
<text x="40.80" y="199.04" font-size="11.2" text-anchor="end" fill="#111" stroke="#111" stroke-width="0.2" font-weight="normal" >40</text>
<text x="40.80" y="164.01" font-size="11.2" text-anchor="end" fill="#111" stroke="#111" stroke-width="0.2" font-weight="normal" >60</text>
<text x="48.50" y="281.20" font-size="11.2" text-anchor="middle" fill="#111" stroke="#111" stroke-width="0.2" font-weight="normal" >0</text>
<text x="68.60" y="281.20" font-size="11.2" text-anchor="middle" fill="#111" stroke="#111" stroke-width="0.2" font-weight="normal" >1</text>
<text x="88.70" y="281.20" font-size="11.2" text-anchor="middle" fill="#111" stroke="#111" stroke-width="0.2" font-weight="normal" >2</text>
<text x="108.80" y="281.20" font-size="11.2" text-anchor="middle" fill="#111" stroke="#111" stroke-width="0.2" font-weight="normal" >3</text>
<text x="128.90" y="281.20" font-size="11.2" text-anchor="middle" fill="#111" stroke="#111" stroke-width="0.2" font-weight="normal" >4</text>
<text x="149.00" y="281.20" font-size="11.2" text-anchor="middle" fill="#111" stroke="#111" stroke-width="0.2" font-weight="normal" >5</text>
<text x="169.10" y="281.20" font-size="11.2" text-anchor="middle" fill="#111" stroke="#111" stroke-width="0.2" font-weight="normal" >6</text>
<text x="188.80" y="281.20" font-size="11.2" text-anchor="middle" fill="#111" stroke="#111" stroke-width="0.2" font-weight="normal" >0</text>
<text x="208.90" y="281.20" font-size="11.2" text-anchor="middle" fill="#111" stroke="#111" stroke-width="0.2" font-weight="normal" >1</text>
<text x="229.00" y="281.20" font-size="11.2" text-anchor="middle" fill="#111" stroke="#111" stroke-width="0.2" font-weight="normal" >2</text>
<text x="249.10" y="281.20" font-size="11.2" text-anchor="middle" fill="#111" stroke="#111" stroke-width="0.2" font-weight="normal" >3</text>
<text x="269.20" y="281.20" font-size="11.2" text-anchor="middle" fill="#111" stroke="#111" stroke-width="0.2" font-weight="normal" >4</text>
<text x="289.30" y="281.20" font-size="11.2" text-anchor="middle" fill="#111" stroke="#111" stroke-width="0.2" font-weight="normal" >5</text>
<text x="309.40" y="281.20" font-size="11.2" text-anchor="middle" fill="#111" stroke="#111" stroke-width="0.2" font-weight="normal" >6</text>
<text x="180.00" y="299.60" font-size="11.4" text-anchor="middle" fill="#111" stroke="#111" stroke-width="0.2" font-weight="normal" >Time (min)</text>
<text transform="translate(17.4,136.9) rotate(-90)" font-size="11.4" text-anchor="middle" fill="#111" stroke="#111" stroke-width="0.2"><tspan font-style="italic">y</tspan> (mm)</text>
<text transform="translate(-1.1,14.0) scale(1.15,1)" font-size="16.5" fill="#111" stroke="#111" stroke-width="0.7" font-weight="bold">a</text>
<text x="354.70" y="184.00" font-size="11.2" text-anchor="end" fill="#111" stroke="#111" stroke-width="0.2" font-weight="normal" >0</text>
<text x="354.70" y="152.55" font-size="11.2" text-anchor="end" fill="#111" stroke="#111" stroke-width="0.2" font-weight="normal" >1</text>
<text x="354.70" y="121.10" font-size="11.2" text-anchor="end" fill="#111" stroke="#111" stroke-width="0.2" font-weight="normal" >2</text>
<text x="354.70" y="89.65" font-size="11.2" text-anchor="end" fill="#111" stroke="#111" stroke-width="0.2" font-weight="normal" >3</text>
<text x="354.70" y="58.20" font-size="11.2" text-anchor="end" fill="#111" stroke="#111" stroke-width="0.2" font-weight="normal" >4</text>
<text transform="translate(388.70,186.6) rotate(-90)" font-size="11.4" text-anchor="end" fill="#111" stroke="#111" stroke-width="0.2">Non-bio</text>
<text transform="translate(412.90,186.6) rotate(-90)" font-size="11.4" text-anchor="end" fill="#111" stroke="#111" stroke-width="0.2">Bio-trajectory</text>
<text transform="translate(437.10,186.6) rotate(-90)" font-size="11.4" text-anchor="end" fill="#111" stroke="#111" stroke-width="0.2">Bio-posture</text>
<text transform="translate(461.20,186.6) rotate(-90)" font-size="11.4" text-anchor="end" fill="#111" stroke="#111" stroke-width="0.2">Biomotion</text>
<text transform="translate(339.6,123.05) rotate(-90)" font-size="11.28" text-anchor="middle" fill="#111" stroke="#111" stroke-width="0.2">Retention time 1/<tspan font-style="italic">k</tspan> (min)</text>
<text transform="translate(332.0,41.5) scale(1.15,1)" font-size="16.5" fill="#111" stroke="#111" stroke-width="0.7" font-weight="bold">b</text>
<text x="529.80" y="185.00" font-size="11.2" text-anchor="end" fill="#111" stroke="#111" stroke-width="0.2" font-weight="normal" >10</text>
<text x="529.80" y="159.62" font-size="11.2" text-anchor="end" fill="#111" stroke="#111" stroke-width="0.2" font-weight="normal" >20</text>
<text x="529.80" y="134.24" font-size="11.2" text-anchor="end" fill="#111" stroke="#111" stroke-width="0.2" font-weight="normal" >30</text>
<text x="529.80" y="108.86" font-size="11.2" text-anchor="end" fill="#111" stroke="#111" stroke-width="0.2" font-weight="normal" >40</text>
<text x="529.80" y="83.48" font-size="11.2" text-anchor="end" fill="#111" stroke="#111" stroke-width="0.2" font-weight="normal" >50</text>
<text x="529.80" y="58.10" font-size="11.2" text-anchor="end" fill="#111" stroke="#111" stroke-width="0.2" font-weight="normal" >60</text>
<text x="564.00" y="199.70" font-size="11.4" text-anchor="middle" fill="#111" stroke="#111" stroke-width="0.2" font-weight="normal" >No</text>
<text x="628.00" y="199.70" font-size="11.4" text-anchor="middle" fill="#111" stroke="#111" stroke-width="0.2" font-weight="normal" >Biological</text>
<text x="602.00" y="219.50" font-size="11.4" text-anchor="middle" fill="#111" stroke="#111" stroke-width="0.2" font-weight="normal" >Posture element</text>
<text transform="translate(509.6,111.8) rotate(-90)" font-size="11.25" text-anchor="middle" fill="#111" stroke="#111" stroke-width="0.2">Mean <tspan font-style="italic">y</tspan> (mm)</text>
<text x="654.60" y="67.60" font-size="11.4" text-anchor="end" fill="#111" stroke="#111" stroke-width="0.2" font-weight="normal" >Non-biological</text>
<text x="654.60" y="79.80" font-size="11.4" text-anchor="end" fill="#111" stroke="#111" stroke-width="0.2" font-weight="normal" >motion-trajectory</text>
<text x="654.60" y="91.90" font-size="11.4" text-anchor="end" fill="#111" stroke="#111" stroke-width="0.2" font-weight="normal" >element</text>
<text x="543.00" y="151.90" font-size="11.4" text-anchor="start" fill="#e0301e" stroke="#e0301e" stroke-width="0.2" font-weight="normal" >Biological</text>
<text x="543.00" y="164.50" font-size="11.4" text-anchor="start" fill="#e0301e" stroke="#e0301e" stroke-width="0.2" font-weight="normal" >motion-trajectory</text>
<text x="543.00" y="176.80" font-size="11.4" text-anchor="start" fill="#e0301e" stroke="#e0301e" stroke-width="0.2" font-weight="normal" >element</text>
<text transform="translate(533.6,41.5) scale(1.15,1)" font-size="16.5" fill="#111" stroke="#111" stroke-width="0.7" font-weight="bold">c</text>
</svg></div></body></html>
